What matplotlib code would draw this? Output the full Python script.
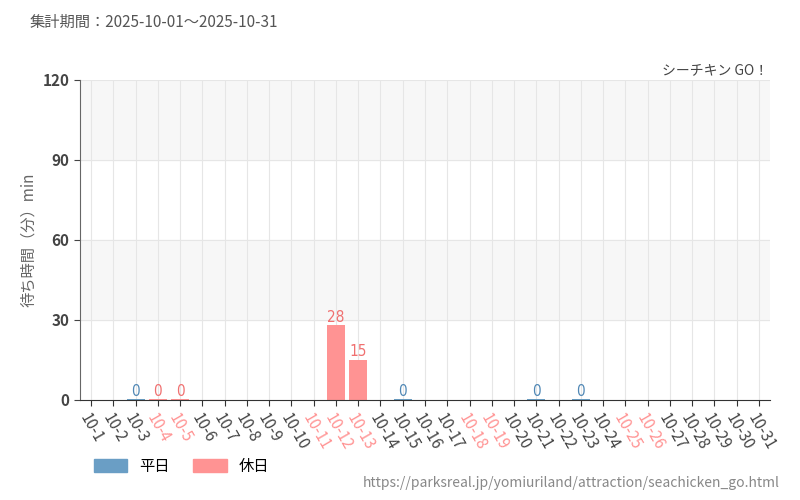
import matplotlib
matplotlib.use("Agg")
import matplotlib.pyplot as plt
from matplotlib.patches import Patch

plt.rcParams['font.family'] = ['Noto Sans CJK JP', 'DejaVu Sans']

days = [f"10-{d}" for d in range(1, 32)]
holidays = [4, 5, 11, 12, 13, 18, 19, 25, 26]
bar_days = [3, 4, 5, 12, 13, 15, 21, 23]
bar_vals = [0, 0, 0, 28, 15, 0, 0, 0]

BLUE = "#6a9ec5"
PINK = "#ff9393"
BLUE_T = "#4f87b5"
PINK_T = "#f07070"

fig = plt.figure(figsize=(8, 5), dpi=100)
ax = fig.add_axes([0.1, 0.2, 0.8625, 0.64])
ax.set_xlim(-0.5, 30.5)
ax.set_ylim(0, 120)
for lo in (30, 90):
    ax.axhspan(lo, lo + 30, color="#f7f7f7", zorder=0)
for y in (30, 60, 90, 120):
    ax.axhline(y, color="#e6e6e6", lw=0.8, zorder=0.5)
for i in range(31):
    ax.axvline(i, color="#e6e6e6", lw=0.8, zorder=0.5)

for d, v in zip(bar_days, bar_vals):
    hol = d in holidays
    c = PINK if hol else BLUE
    ax.bar(d - 1, max(v, 0.4), width=0.8, color=c, zorder=2)
    ax.text(d - 1, v + 0.3, str(v), ha="center", va="bottom", fontsize=11,
            color=PINK_T if hol else BLUE_T, family=["Liberation Sans Narrow", "DejaVu Sans"],
            fontstretch="condensed", zorder=3)

ax.set_xticks(range(31))
ax.set_xticklabels(days, rotation=-60, ha="left", va="top", rotation_mode="anchor", fontsize=11)
for i, lab in enumerate(ax.get_xticklabels()):
    lab.set_color(PINK if (i + 1) in holidays else "#444444")
ax.set_yticks([0, 30, 60, 90, 120])
ax.tick_params(axis="y", labelsize=11, colors="#444444", length=4)
ax.tick_params(axis="x", length=4, color="#333333")
for lab in ax.get_yticklabels():
    lab.set_fontweight("bold")
for s in ("top", "right"):
    ax.spines[s].set_visible(False)
ax.spines["left"].set_color("#666666")
ax.spines["bottom"].set_color("#333333")
ax.set_ylabel("待ち時間（分）min", color="#666666", fontsize=11)

fig.text(0.0375, 0.955, "集計期間：2025-10-01～2025-10-31", fontsize=11, color="#555555", va="center")
fig.text(0.96, 0.86, "シーチキン GO！", fontsize=10, color="#444444", ha="right", va="center")
fig.text(0.975, 0.035, "https://parksreal.jp/yomiuriland/attraction/seachicken_go.html",
         fontsize=10, color="#888888", ha="right", va="center")
fig.legend(handles=[Patch(color=BLUE, label="平日"), Patch(color=PINK, label="休日")],
           loc="center left", bbox_to_anchor=(0.1, 0.067), ncol=2, frameon=False,
           fontsize=11, handlelength=2.2, handleheight=0.9, columnspacing=1.5)
fig.savefig("out.png")
